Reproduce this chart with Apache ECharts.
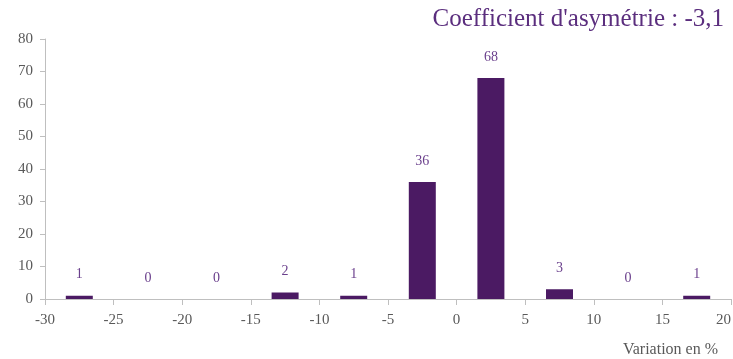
<!DOCTYPE html>
<html><head><meta charset="utf-8">
<script src="https://cdn.jsdelivr.net/npm/echarts@6/dist/echarts.min.js"></script>
<style>html,body{margin:0;padding:0;background:#fff}#c{width:733px;height:359px}</style>
</head><body><div id="c"></div>
<script>
var binCenters = [-27.5, -22.5, -17.5, -12.5, -7.5, -2.5, 2.5, 7.5, 12.5, 17.5];
var counts = [1, 0, 0, 2, 1, 36, 68, 3, 0, 1];
var titleText = "Coefficient d'asymétrie : -3,1";
var xName = "Variation en %";

var font = "'Liberation Serif', 'DejaVu Serif', serif";
var chart = echarts.init(document.getElementById('c'));
chart.setOption({
  animation: false,
  title: [
    {text: titleText, right: 4, top: 2, textStyle: {fontFamily: font, fontSize: 25, fontWeight: 'normal', color: '#5B2E7E'}},
    {text: xName, right: 10, top: 337, textStyle: {fontFamily: font, fontSize: 16, fontWeight: 'normal', color: '#595959'}}
  ],
  grid: {left: 45, right: 2, top: 39, bottom: 60, outerBoundsMode: 'none', containLabel: false},
  xAxis: {
    type: 'value', min: -30, max: 20, interval: 5,
    axisLine: {show: true, lineStyle: {color: '#BFBFBF'}},
    axisTick: {show: true, length: 6, lineStyle: {color: '#BFBFBF'}},
    axisLabel: {margin: 14, fontFamily: font, fontSize: 15, color: '#595959', alignMaxLabel: 'right'},
    splitLine: {show: false}
  },
  yAxis: {
    type: 'value', min: 0, max: 80, interval: 10,
    axisLine: {show: true, onZero: false, lineStyle: {color: '#BFBFBF'}},
    axisTick: {show: true, length: 5, lineStyle: {color: '#BFBFBF'}},
    axisLabel: {margin: 12, fontFamily: font, fontSize: 15, color: '#595959'},
    splitLine: {show: false}
  },
  series: [{
    type: 'bar',
    barWidth: 27,
    data: binCenters.map(function(x, i){ return [x, counts[i]]; }),
    itemStyle: {color: '#4B1A63'},
    label: {show: true, position: 'top', distance: 14, fontFamily: font, fontSize: 14, color: '#6A3F8C',
      formatter: function(p){ return p.value[1]; }}
  }]
});
</script></body></html>
